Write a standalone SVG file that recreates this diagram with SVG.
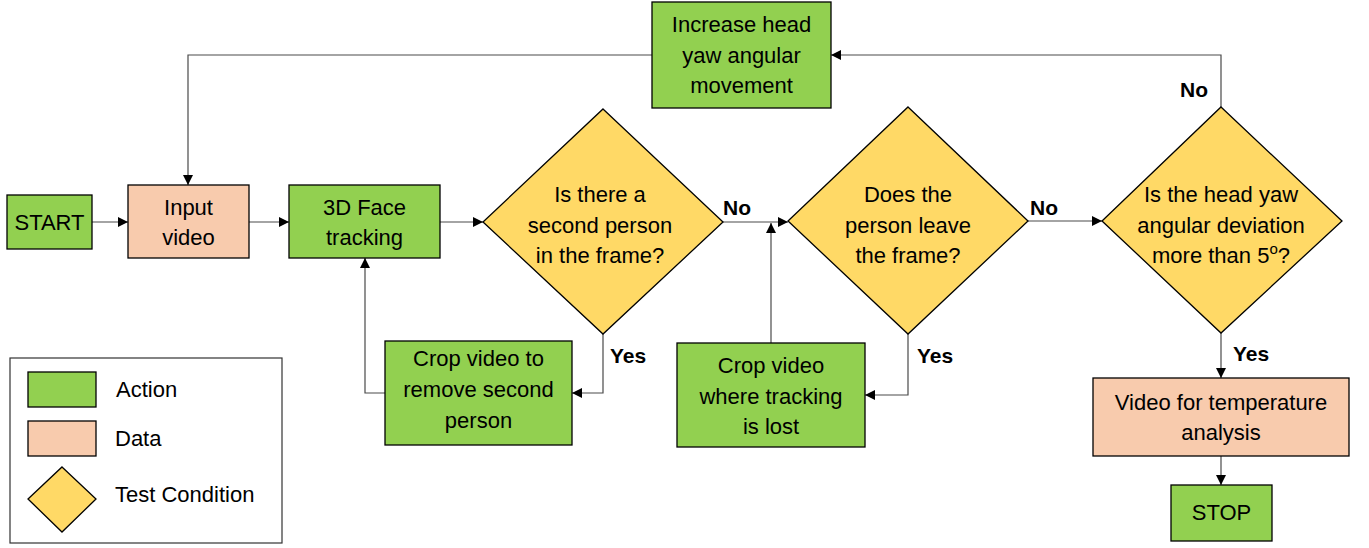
<svg xmlns="http://www.w3.org/2000/svg" width="1369" height="548" viewBox="0 0 1369 548">
<defs>
<marker id="ah" viewBox="0 0 10 10" refX="10" refY="5" markerWidth="10" markerHeight="10" markerUnits="userSpaceOnUse" orient="auto">
<path d="M0,0 L10,5 L0,10 z" fill="#000"/>
</marker>
<style>
.act{fill:#92D050;stroke:#000;stroke-width:1.3}
.dat{fill:#F8CBAD;stroke:#000;stroke-width:1.3}
.cond{fill:#FFD966;stroke:#000;stroke-width:1.3}
.t{font-family:"Liberation Sans",Arial,sans-serif;font-size:22px;fill:#000;text-anchor:middle}
.lbl{font-family:"Liberation Sans",Arial,sans-serif;font-size:21px;font-weight:bold;fill:#000}
.lg{font-family:"Liberation Sans",Arial,sans-serif;font-size:22px;fill:#000}
.c{fill:none;stroke:#4a4a4a;stroke-width:1.2}
</style>
</defs>
<rect width="1369" height="548" fill="#fff"/>

<g id="connectors">
<path class="c" d="M92,222 H128" marker-end="url(#ah)"/>
<path class="c" d="M249,222 H289" marker-end="url(#ah)"/>
<path class="c" d="M440,222 H483" marker-end="url(#ah)"/>
<path class="c" d="M723,222 H788" marker-end="url(#ah)"/>
<path class="c" d="M1028,221 H1102" marker-end="url(#ah)"/>
<path class="c" d="M603,334 V393 H572" marker-end="url(#ah)"/>
<path class="c" d="M385,393 H365 V258" marker-end="url(#ah)"/>
<path class="c" d="M908,334 V395 H865" marker-end="url(#ah)"/>
<path class="c" d="M771,343 V223" marker-end="url(#ah)"/>
<path class="c" d="M1221,107 V55 H831" marker-end="url(#ah)"/>
<path class="c" d="M652,55 H188 V185" marker-end="url(#ah)"/>
<path class="c" d="M1221,333 V378" marker-end="url(#ah)"/>
<path class="c" d="M1221,456 V485" marker-end="url(#ah)"/>
<text class="lbl" x="723" y="215">No</text>
<text class="lbl" x="1030" y="215">No</text>
<text class="lbl" x="1180" y="97">No</text>
<text class="lbl" x="610" y="363">Yes</text>
<text class="lbl" x="917" y="363">Yes</text>
<text class="lbl" x="1233" y="361">Yes</text>
</g>

<g id="start">
<rect class="act" x="7" y="195" width="85" height="54"/>
<text class="t" x="49.5" y="230">START</text>
</g>
<g id="input-video">
<rect class="dat" x="128" y="185" width="121" height="73"/>
<text class="t" x="188.5" y="215">Input</text>
<text class="t" x="188.5" y="245">video</text>
</g>
<g id="face-tracking">
<rect class="act" x="289" y="185" width="151" height="73"/>
<text class="t" x="364.5" y="215">3D Face</text>
<text class="t" x="364.5" y="245">tracking</text>
</g>
<g id="second-person">
<polygon class="cond" points="603,109 723,222 603,334 483,222"/>
<text class="t" x="600" y="202">Is there a</text>
<text class="t" x="600" y="233">second person</text>
<text class="t" x="600" y="263">in the frame?</text>
</g>
<g id="leave-frame">
<polygon class="cond" points="908,107 1028,221 908,334 788,221"/>
<text class="t" x="908" y="202">Does the</text>
<text class="t" x="908" y="233">person leave</text>
<text class="t" x="908" y="263">the frame?</text>
</g>
<g id="yaw-deviation">
<polygon class="cond" points="1221,107 1342,221 1221,333 1102,221"/>
<text class="t" x="1221" y="202">Is the head yaw</text>
<text class="t" x="1221" y="233">angular deviation</text>
<text class="t" x="1221" y="263">more than 5<tspan font-size="15" dy="-9">o</tspan><tspan dy="9">?</tspan></text>
</g>
<g id="increase-yaw">
<rect class="act" x="652" y="2" width="179" height="106"/>
<text class="t" x="741.5" y="32">Increase head</text>
<text class="t" x="741.5" y="63">yaw angular</text>
<text class="t" x="741.5" y="93">movement</text>
</g>
<g id="crop-second">
<rect class="act" x="385" y="341" width="187" height="104"/>
<text class="t" x="478.5" y="366">Crop video to</text>
<text class="t" x="478.5" y="397">remove second</text>
<text class="t" x="478.5" y="428">person</text>
</g>
<g id="crop-lost">
<rect class="act" x="677" y="343" width="188" height="104"/>
<text class="t" x="771" y="373">Crop video</text>
<text class="t" x="771" y="404">where tracking</text>
<text class="t" x="771" y="434">is lost</text>
</g>
<g id="video-temp">
<rect class="dat" x="1093" y="378" width="256" height="78"/>
<text class="t" x="1221" y="410">Video for temperature</text>
<text class="t" x="1221" y="440">analysis</text>
</g>
<g id="stop">
<rect class="act" x="1171" y="485" width="101" height="56"/>
<text class="t" x="1221.5" y="520">STOP</text>
</g>

<g id="legend">
<rect x="10" y="358" width="272" height="185" fill="#fff" stroke="#333" stroke-width="1.2"/>
<rect class="act" x="28" y="372" width="68" height="35"/>
<rect class="dat" x="28" y="421" width="68" height="35"/>
<polygon class="cond" points="62,467 96,499 62,532 28,499"/>
<text class="lg" x="116" y="397">Action</text>
<text class="lg" x="115" y="446">Data</text>
<text class="lg" x="115" y="502">Test Condition</text>
</g>
</svg>
